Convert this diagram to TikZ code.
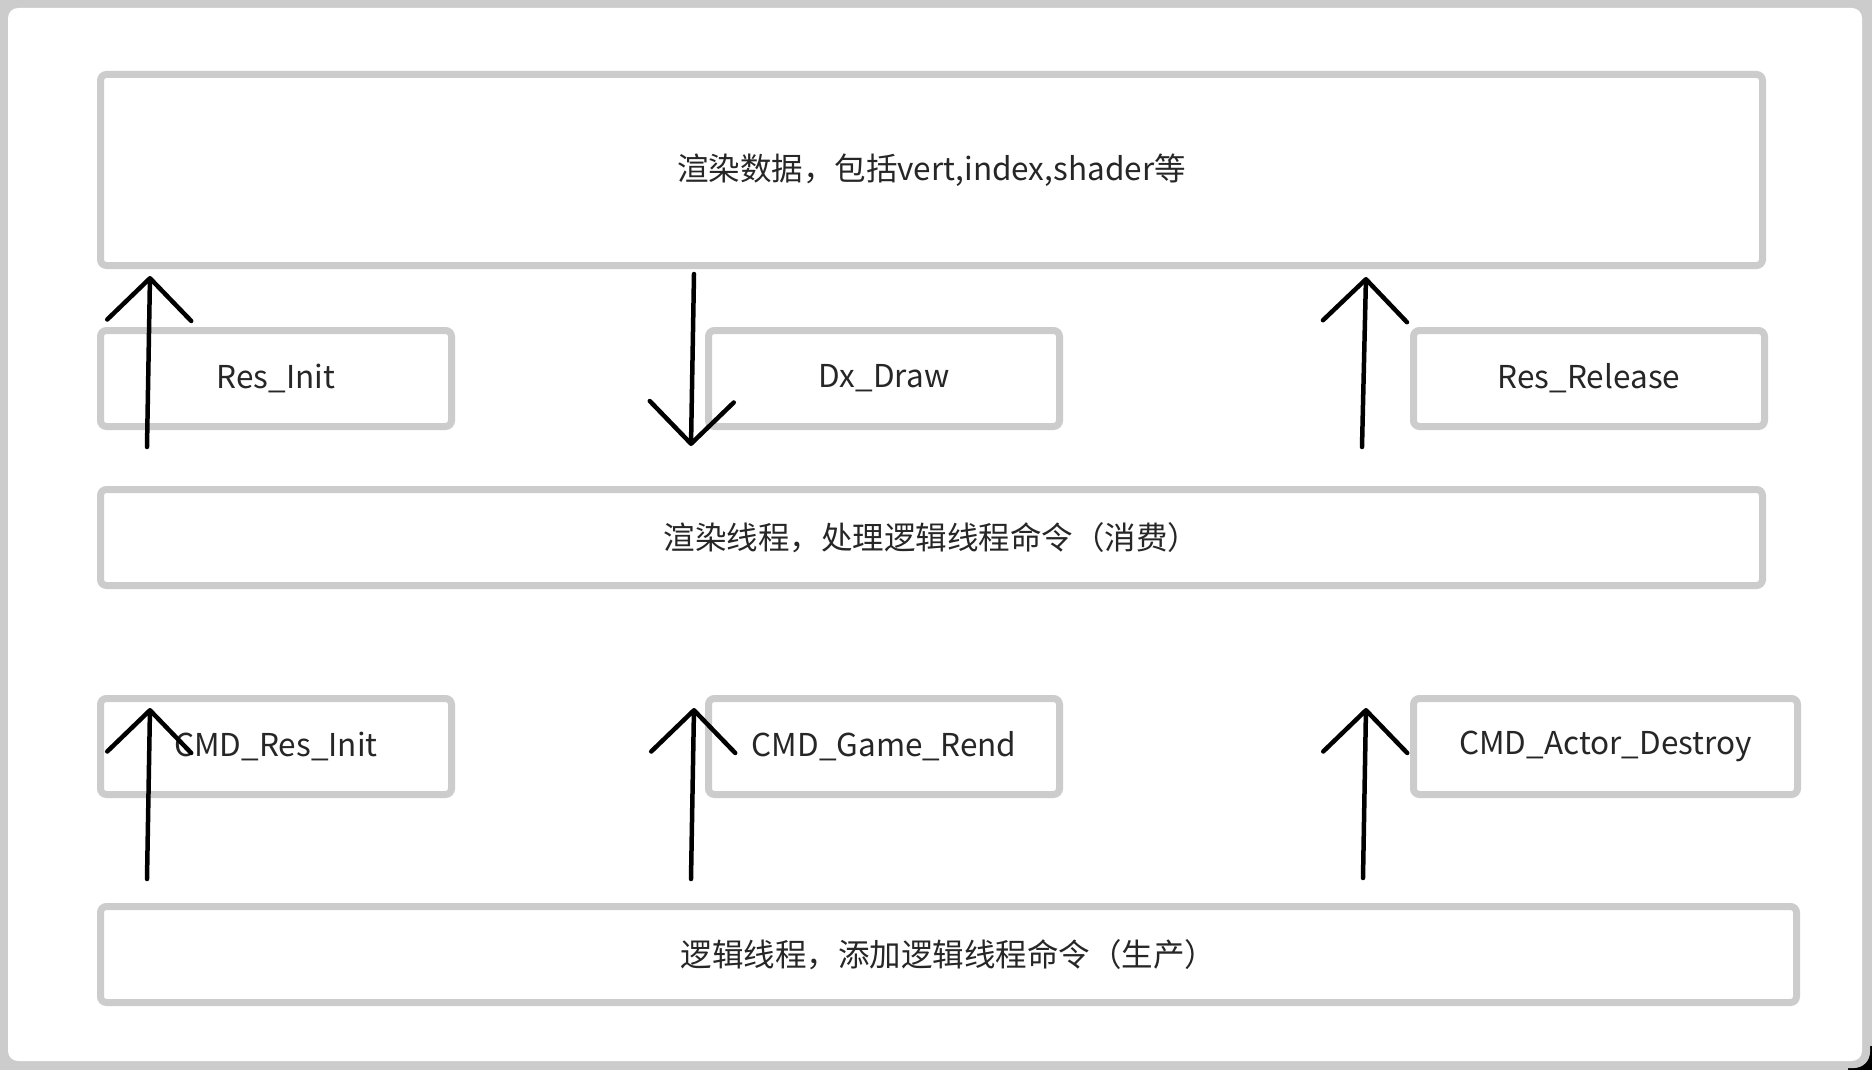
\documentclass[tikz,border=0pt]{standalone}
\usepackage{fontspec}
\setmainfont{Noto Sans CJK SC}
\usepackage{tikz}
\usetikzlibrary{positioning}
\usetikzlibrary{arrows.meta}

\definecolor{boxgray}{HTML}{CCCCCC}
\definecolor{textgray}{HTML}{262626}

\begin{document}
\begin{tikzpicture}[x=1pt,y=-1pt,>={Straight Barb[length=42pt,width=84pt,round]},
	line width=4.5pt,line cap=round,
	box/.style={draw=boxgray,line width=7pt,rounded corners=6pt,inner sep=0pt,
		text=textgray,font=\fontsize{31.5pt}{38pt}\selectfont},
	wide box/.style={box,minimum width=1662pt,minimum height=96pt},
	cmd box/.style={box,minimum width=351pt,minimum height=96pt}]
	
	% frame
	\fill[boxgray] (0,0) rectangle (1872,1070);
	\fill[black] (1848,1046) rectangle (1872,1070);
	\fill[boxgray,rounded corners=16pt] (0,0) rectangle (1870,1068);
	\fill[white,rounded corners=10pt] (8,8) rectangle (1862,1061);
	
	\node[wide box,minimum height=191pt] (data) at (931.5,170) {渲染数据，包括vert,index,shader等};
	\node[cmd box] (resinit) [below right=58pt and 0pt of data.south west] {Res\_Init};
	\node[cmd box] (dxdraw) [right=250pt of resinit] {Dx\_Draw};
	\node[cmd box] (resrelease) [right=347pt of dxdraw] {Res\_Release};
	\node[wide box] (render) [below right=56pt and 0pt of resinit.south west] {渲染线程，处理逻辑线程命令（消费）};
	\node[cmd box] (cmdinit) [below right=106pt and 0pt of render.south west] {CMD\_Res\_Init};
	\node[cmd box] (cmdrend) [right=250pt of cmdinit] {CMD\_Game\_Rend};
	\node[cmd box,minimum width=384pt] (cmddestroy) [right=347pt of cmdrend] {CMD\_Actor\_Destroy};
	\node[wide box,minimum width=1696pt] (logic) [below right=105pt and 0pt of cmdinit.south west] {逻辑线程，添加逻辑线程命令（生产）};
	
	\coordinate (initfrom) at (147,447);
	\coordinate (initto) at (150,276);
	\coordinate (drawfrom) at (694,274);
	\coordinate (drawto) at (691,446);
	\coordinate (releasefrom) at (1362,447);
	\coordinate (releaseto) at (1366,277);
	\coordinate (cmdinitfrom) at (147,879);
	\coordinate (cmdinitto) at (150,708);
	\coordinate (cmdrendfrom) at (691,879);
	\coordinate (cmdrendto) at (694,708);
	\coordinate (cmddestroyfrom) at (1363,878);
	\coordinate (cmddestroyto) at (1366,708);
	
	\path[draw=black]
	(initfrom) edge [->] (initto)
	(drawfrom) edge [->] (drawto)
	(releasefrom) edge [->] (releaseto)
	(cmdinitfrom) edge [->] (cmdinitto)
	(cmdrendfrom) edge [->] (cmdrendto)
	(cmddestroyfrom) edge [->] (cmddestroyto);
\end{tikzpicture}
\end{document}
